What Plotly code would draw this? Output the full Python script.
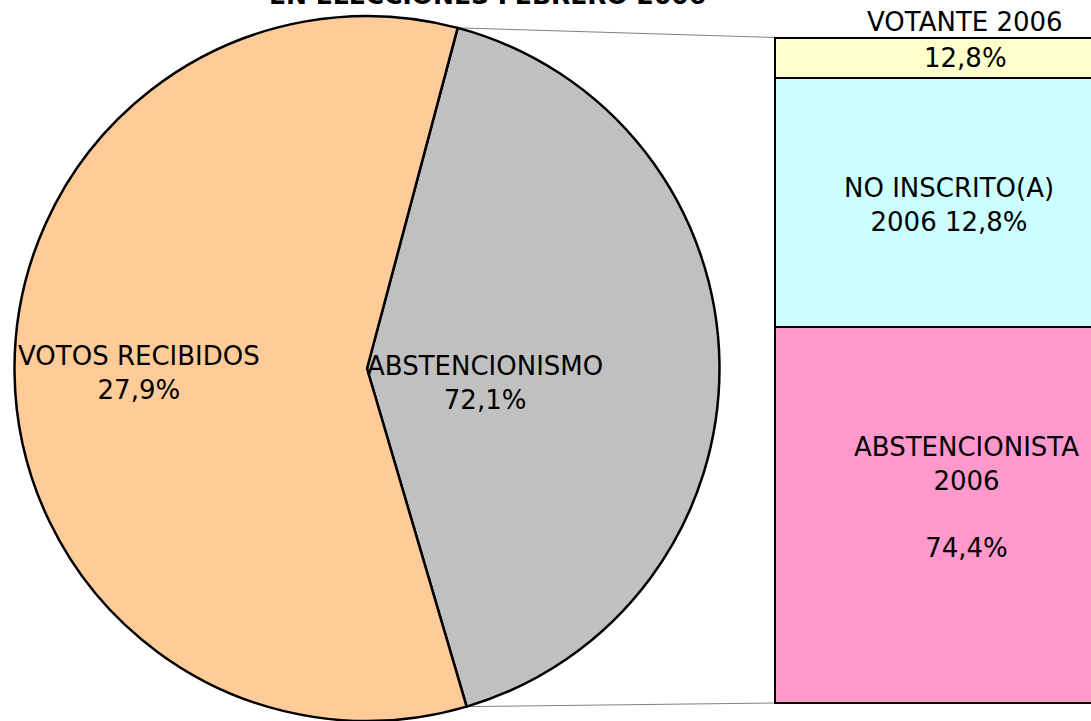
import math
import plotly.graph_objects as go

W, H = 1091, 721

# pie data (slice sizes, labels as printed)
pie_names = ['ABSTENCIONISMO', 'VOTOS RECIBIDOS']
pie_values = [41.3, 58.7]
pie_text = ['ABSTENCIONISMO<br>72,1%', 'VOTOS RECIBIDOS<br>27,9%']
pie_colors = ['#C0C0C0', '#FFCC99']

# bar data (bottom to top)
bar_names = ['ABSTENCIONISTA 2006', 'NO INSCRITO(A) 2006', 'VOTANTE 2006']
bar_values = [56.5, 37.4, 6.1]
bar_text = ['ABSTENCIONISTA<br>2006<br><br>74,4%', 'NO INSCRITO(A)<br>2006 12,8%', '12,8%']
bar_colors = ['#FF99CC', '#CCFFFF', '#FFFFCC']

title = 'EN ELECCIONES FEBRERO 2006'
font = 'DejaVu Sans'


# screen pixel -> paper coords
def px(x):
    return x / W


def py(y):
    return 1 - y / H


fig = go.Figure()

# pie: top at y=16, bottom runs to the page edge
cx, r = 367, (H - 16) / 2
cy = 16 + r
rot = 14.9
fig.add_trace(go.Pie(
    labels=pie_names, values=pie_values, sort=False, direction='clockwise',
    rotation=rot, textinfo='none', hoverinfo='label+percent',
    marker=dict(colors=pie_colors, line=dict(color='black', width=2.5)),
    domain=dict(x=[px(cx - r), px(cx + r)], y=[0, py(16)]),
    showlegend=False,
))

for name, val, col in zip(bar_names, bar_values, bar_colors):
    fig.add_trace(go.Bar(
        x=[0], y=[val], name=name, width=1, showlegend=False,
        marker=dict(color=col, line=dict(color='black', width=2.5)),
        xaxis='x', yaxis='y',
    ))

# bar of pie: left edge 775, top 37.5, bottom 703 (screen)
bar_left, bar_top, bar_bot = 775, 37.5, 703
u = 330.0
yscale = (bar_bot - bar_top) / sum(bar_values)
fig.update_layout(
    xaxis=dict(domain=[px(bar_left - 4), 1],
               range=[-0.5 - 4 / u, -0.5 + (W - bar_left) / u],
               visible=False, fixedrange=True),
    yaxis=dict(domain=[0, 1],
               range=[-(H - bar_bot) / yscale, sum(bar_values) + bar_top / yscale],
               visible=False, fixedrange=True),
    barmode='stack', bargap=0,
)

# connector lines from pie split points to bar corners
a0 = math.radians(rot)
a1 = a0 + math.radians(360 * pie_values[0] / sum(pie_values))
p0 = (cx + r * math.sin(a0), cy - r * math.cos(a0))
p1 = (cx + r * math.sin(a1), cy - r * math.cos(a1))
for (x0, y0), (x1, y1) in [(p0, (bar_left, bar_top)), (p1, (bar_left, bar_bot))]:
    fig.add_shape(type='line', xref='paper', yref='paper',
                  x0=px(x0), y0=py(y0), x1=px(x1), y1=py(y1),
                  line=dict(color='#808080', width=1), layer='below')

ann = [
    (pie_text[1], 139, 373),
    (pie_text[0], 485, 383),
    ('VOTANTE 2006', 965, 22),
    (bar_text[2], 965, 58),
    (bar_text[1], 949, 205),
    (bar_text[0], 966, 497),
]
for t, x, y in ann:
    fig.add_annotation(
        text=t, x=px(x), y=py(y), xref='paper', yref='paper',
        showarrow=False, xanchor='center', yanchor='middle',
        font=dict(family=font, size=26, color='black'),
    )

# title, mostly cut off at the top like in the original
fig.add_annotation(
    text=f'<b>{title}</b>', x=px(487), y=py(-5), xref='paper', yref='paper',
    showarrow=False, xanchor='center', yanchor='middle',
    font=dict(family=font, size=25, color='black'),
)

fig.update_layout(
    width=W, height=H, margin=dict(l=0, r=0, t=0, b=0),
    paper_bgcolor='white', plot_bgcolor='white',
    font=dict(family=font, size=26, color='black'),
)

# no page margin so the figure sits at the window's corner
fig.write_html('out.html', config={'displayModeBar': False},
               post_script="document.body.style.margin='0';document.body.style.overflow='hidden';")
